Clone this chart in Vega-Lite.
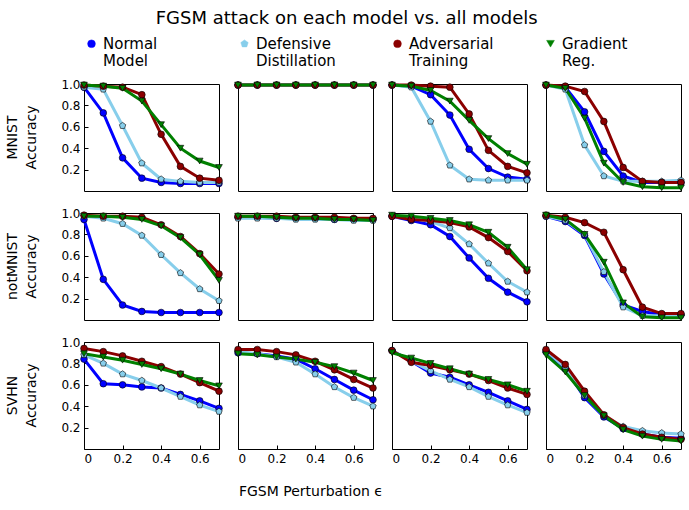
{
  "$schema": "https://vega.github.io/schema/vega-lite/v6.json",
  "padding": {"left": 5, "top": 10, "right": 5, "bottom": 5},
  "bounds": "flush",
  "title": {"text": "FGSM attack on each model vs. all models", "fontSize": 18, "fontWeight": "normal", "font": "DejaVu Sans", "anchor": "middle", "color": "black", "offset": 8},
  "data": {"values": [
    {"d":"MNIST","a":"N","x":0.0,"N":0.97,"D":0.97,"A":0.99,"G":0.99},
    {"d":"MNIST","a":"N","x":0.1,"N":0.73,"D":0.95,"A":0.98,"G":0.98},
    {"d":"MNIST","a":"N","x":0.2,"N":0.31,"D":0.61,"A":0.97,"G":0.96},
    {"d":"MNIST","a":"N","x":0.3,"N":0.12,"D":0.26,"A":0.90,"G":0.84},
    {"d":"MNIST","a":"N","x":0.4,"N":0.08,"D":0.11,"A":0.53,"G":0.62},
    {"d":"MNIST","a":"N","x":0.5,"N":0.07,"D":0.09,"A":0.23,"G":0.40},
    {"d":"MNIST","a":"N","x":0.6,"N":0.07,"D":0.08,"A":0.12,"G":0.28},
    {"d":"MNIST","a":"N","x":0.7,"N":0.07,"D":0.08,"A":0.10,"G":0.22},
    {"d":"MNIST","a":"D","x":0.0,"N":0.99,"D":0.99,"A":0.99,"G":0.99},
    {"d":"MNIST","a":"D","x":0.1,"N":0.99,"D":0.99,"A":0.99,"G":0.99},
    {"d":"MNIST","a":"D","x":0.2,"N":0.99,"D":0.99,"A":0.99,"G":0.99},
    {"d":"MNIST","a":"D","x":0.3,"N":0.99,"D":0.99,"A":0.99,"G":0.99},
    {"d":"MNIST","a":"D","x":0.4,"N":0.99,"D":0.99,"A":0.99,"G":0.99},
    {"d":"MNIST","a":"D","x":0.5,"N":0.99,"D":0.99,"A":0.99,"G":0.99},
    {"d":"MNIST","a":"D","x":0.6,"N":0.99,"D":0.99,"A":0.99,"G":0.99},
    {"d":"MNIST","a":"D","x":0.7,"N":0.99,"D":0.99,"A":0.99,"G":0.99},
    {"d":"MNIST","a":"A","x":0.0,"N":0.99,"D":0.99,"A":0.99,"G":0.99},
    {"d":"MNIST","a":"A","x":0.1,"N":0.98,"D":0.97,"A":0.99,"G":0.98},
    {"d":"MNIST","a":"A","x":0.2,"N":0.90,"D":0.65,"A":0.98,"G":0.94},
    {"d":"MNIST","a":"A","x":0.3,"N":0.71,"D":0.24,"A":0.97,"G":0.84},
    {"d":"MNIST","a":"A","x":0.4,"N":0.39,"D":0.11,"A":0.72,"G":0.66},
    {"d":"MNIST","a":"A","x":0.5,"N":0.21,"D":0.10,"A":0.38,"G":0.49},
    {"d":"MNIST","a":"A","x":0.6,"N":0.13,"D":0.10,"A":0.23,"G":0.35},
    {"d":"MNIST","a":"A","x":0.7,"N":0.11,"D":0.10,"A":0.17,"G":0.25},
    {"d":"MNIST","a":"G","x":0.0,"N":0.99,"D":0.99,"A":0.99,"G":0.99},
    {"d":"MNIST","a":"G","x":0.1,"N":0.97,"D":0.95,"A":0.98,"G":0.96},
    {"d":"MNIST","a":"G","x":0.2,"N":0.74,"D":0.43,"A":0.93,"G":0.68},
    {"d":"MNIST","a":"G","x":0.3,"N":0.37,"D":0.14,"A":0.65,"G":0.26},
    {"d":"MNIST","a":"G","x":0.4,"N":0.14,"D":0.09,"A":0.22,"G":0.08},
    {"d":"MNIST","a":"G","x":0.5,"N":0.08,"D":0.09,"A":0.09,"G":0.04},
    {"d":"MNIST","a":"G","x":0.6,"N":0.08,"D":0.09,"A":0.08,"G":0.03},
    {"d":"MNIST","a":"G","x":0.7,"N":0.08,"D":0.10,"A":0.08,"G":0.03},
    {"d":"notMNIST","a":"N","x":0.0,"N":0.94,"D":0.97,"A":0.98,"G":0.97},
    {"d":"notMNIST","a":"N","x":0.1,"N":0.38,"D":0.95,"A":0.97,"G":0.97},
    {"d":"notMNIST","a":"N","x":0.2,"N":0.14,"D":0.90,"A":0.97,"G":0.96},
    {"d":"notMNIST","a":"N","x":0.3,"N":0.08,"D":0.79,"A":0.96,"G":0.94},
    {"d":"notMNIST","a":"N","x":0.4,"N":0.07,"D":0.61,"A":0.89,"G":0.88},
    {"d":"notMNIST","a":"N","x":0.5,"N":0.07,"D":0.44,"A":0.78,"G":0.77},
    {"d":"notMNIST","a":"N","x":0.6,"N":0.07,"D":0.29,"A":0.62,"G":0.61},
    {"d":"notMNIST","a":"N","x":0.7,"N":0.07,"D":0.18,"A":0.43,"G":0.37},
    {"d":"notMNIST","a":"D","x":0.0,"N":0.96,"D":0.95,"A":0.97,"G":0.97},
    {"d":"notMNIST","a":"D","x":0.1,"N":0.96,"D":0.95,"A":0.97,"G":0.97},
    {"d":"notMNIST","a":"D","x":0.2,"N":0.95,"D":0.95,"A":0.97,"G":0.96},
    {"d":"notMNIST","a":"D","x":0.3,"N":0.95,"D":0.94,"A":0.96,"G":0.95},
    {"d":"notMNIST","a":"D","x":0.4,"N":0.95,"D":0.94,"A":0.96,"G":0.95},
    {"d":"notMNIST","a":"D","x":0.5,"N":0.94,"D":0.94,"A":0.96,"G":0.94},
    {"d":"notMNIST","a":"D","x":0.6,"N":0.94,"D":0.93,"A":0.95,"G":0.94},
    {"d":"notMNIST","a":"D","x":0.7,"N":0.94,"D":0.93,"A":0.95,"G":0.93},
    {"d":"notMNIST","a":"A","x":0.0,"N":0.97,"D":0.97,"A":0.97,"G":0.98},
    {"d":"notMNIST","a":"A","x":0.1,"N":0.93,"D":0.95,"A":0.94,"G":0.97},
    {"d":"notMNIST","a":"A","x":0.2,"N":0.89,"D":0.92,"A":0.93,"G":0.95},
    {"d":"notMNIST","a":"A","x":0.3,"N":0.78,"D":0.86,"A":0.91,"G":0.93},
    {"d":"notMNIST","a":"A","x":0.4,"N":0.58,"D":0.71,"A":0.87,"G":0.89},
    {"d":"notMNIST","a":"A","x":0.5,"N":0.39,"D":0.53,"A":0.77,"G":0.82},
    {"d":"notMNIST","a":"A","x":0.6,"N":0.26,"D":0.36,"A":0.64,"G":0.68},
    {"d":"notMNIST","a":"A","x":0.7,"N":0.17,"D":0.26,"A":0.46,"G":0.47},
    {"d":"notMNIST","a":"G","x":0.0,"N":0.97,"D":0.97,"A":0.98,"G":0.98},
    {"d":"notMNIST","a":"G","x":0.1,"N":0.92,"D":0.93,"A":0.96,"G":0.94},
    {"d":"notMNIST","a":"G","x":0.2,"N":0.79,"D":0.80,"A":0.91,"G":0.80},
    {"d":"notMNIST","a":"G","x":0.3,"N":0.43,"D":0.45,"A":0.82,"G":0.54},
    {"d":"notMNIST","a":"G","x":0.4,"N":0.14,"D":0.12,"A":0.47,"G":0.16},
    {"d":"notMNIST","a":"G","x":0.5,"N":0.08,"D":0.04,"A":0.12,"G":0.03},
    {"d":"notMNIST","a":"G","x":0.6,"N":0.05,"D":0.04,"A":0.06,"G":0.02},
    {"d":"notMNIST","a":"G","x":0.7,"N":0.05,"D":0.04,"A":0.06,"G":0.02},
    {"d":"SVHN","a":"N","x":0.0,"N":0.84,"D":0.88,"A":0.94,"G":0.89},
    {"d":"SVHN","a":"N","x":0.1,"N":0.61,"D":0.80,"A":0.91,"G":0.86},
    {"d":"SVHN","a":"N","x":0.2,"N":0.60,"D":0.70,"A":0.87,"G":0.83},
    {"d":"SVHN","a":"N","x":0.3,"N":0.58,"D":0.64,"A":0.82,"G":0.79},
    {"d":"SVHN","a":"N","x":0.4,"N":0.57,"D":0.57,"A":0.77,"G":0.75},
    {"d":"SVHN","a":"N","x":0.5,"N":0.51,"D":0.49,"A":0.70,"G":0.70},
    {"d":"SVHN","a":"N","x":0.6,"N":0.45,"D":0.41,"A":0.62,"G":0.64},
    {"d":"SVHN","a":"N","x":0.7,"N":0.38,"D":0.35,"A":0.54,"G":0.59},
    {"d":"SVHN","a":"D","x":0.0,"N":0.90,"D":0.91,"A":0.93,"G":0.89},
    {"d":"SVHN","a":"D","x":0.1,"N":0.89,"D":0.89,"A":0.93,"G":0.88},
    {"d":"SVHN","a":"D","x":0.2,"N":0.87,"D":0.86,"A":0.91,"G":0.86},
    {"d":"SVHN","a":"D","x":0.3,"N":0.84,"D":0.81,"A":0.88,"G":0.84},
    {"d":"SVHN","a":"D","x":0.4,"N":0.75,"D":0.70,"A":0.82,"G":0.81},
    {"d":"SVHN","a":"D","x":0.5,"N":0.65,"D":0.58,"A":0.74,"G":0.77},
    {"d":"SVHN","a":"D","x":0.6,"N":0.55,"D":0.48,"A":0.65,"G":0.71},
    {"d":"SVHN","a":"D","x":0.7,"N":0.46,"D":0.40,"A":0.57,"G":0.64},
    {"d":"SVHN","a":"A","x":0.0,"N":0.92,"D":0.92,"A":0.92,"G":0.90},
    {"d":"SVHN","a":"A","x":0.1,"N":0.82,"D":0.82,"A":0.81,"G":0.85},
    {"d":"SVHN","a":"A","x":0.2,"N":0.71,"D":0.73,"A":0.78,"G":0.80},
    {"d":"SVHN","a":"A","x":0.3,"N":0.67,"D":0.65,"A":0.74,"G":0.75},
    {"d":"SVHN","a":"A","x":0.4,"N":0.60,"D":0.58,"A":0.70,"G":0.70},
    {"d":"SVHN","a":"A","x":0.5,"N":0.53,"D":0.49,"A":0.64,"G":0.65},
    {"d":"SVHN","a":"A","x":0.6,"N":0.45,"D":0.41,"A":0.57,"G":0.60},
    {"d":"SVHN","a":"A","x":0.7,"N":0.37,"D":0.34,"A":0.51,"G":0.54},
    {"d":"SVHN","a":"G","x":0.0,"N":0.91,"D":0.92,"A":0.93,"G":0.88},
    {"d":"SVHN","a":"G","x":0.1,"N":0.75,"D":0.76,"A":0.79,"G":0.72},
    {"d":"SVHN","a":"G","x":0.2,"N":0.48,"D":0.50,"A":0.54,"G":0.50},
    {"d":"SVHN","a":"G","x":0.3,"N":0.30,"D":0.31,"A":0.32,"G":0.31},
    {"d":"SVHN","a":"G","x":0.4,"N":0.19,"D":0.21,"A":0.20,"G":0.18},
    {"d":"SVHN","a":"G","x":0.5,"N":0.14,"D":0.17,"A":0.14,"G":0.12},
    {"d":"SVHN","a":"G","x":0.6,"N":0.11,"D":0.15,"A":0.11,"G":0.09},
    {"d":"SVHN","a":"G","x":0.7,"N":0.10,"D":0.14,"A":0.09,"G":0.075}
  ]},
  "transform": [{"fold": ["N", "D", "A", "G"], "as": ["series", "acc"]}],
  "facet": {
    "row": {"field": "d", "type": "nominal", "sort": ["MNIST", "notMNIST", "SVHN"],
      "header": {"title": null, "labelOrient": "left", "labelAngle": -90, "labelExpr": "[datum.value, 'Accuracy']", "labelFontSize": 14, "labelFont": "DejaVu Sans", "labelColor": "black", "labelPadding": 8, "labelAlign": "center", "labelBaseline": "bottom", "labelLineHeight": 19}},
    "column": {"field": "a", "type": "nominal", "sort": ["N", "D", "A", "G"],
      "header": {"labels": false, "title": "FGSM Perturbation ϵ", "titleOrient": "bottom", "titleAnchor": "middle", "titleAlign": "right", "titleFontSize": 14, "titleFontWeight": "normal", "titleFont": "DejaVu Sans", "titleColor": "black", "titlePadding": 11}}
  },
  "spacing": {"row": 22, "column": 19},
  "spec": {
    "width": 135,
    "height": 107,
    "encoding": {
      "x": {"field": "x", "type": "quantitative", "scale": {"domain": [0, 0.7], "nice": false},
        "axis": {"title": null, "values": [0, 0.2, 0.4, 0.6], "labelExpr": "datum.value == 0 ? '0' : format(datum.value, '.1f')"}},
      "y": {"field": "acc", "type": "quantitative", "scale": {"domain": [0, 1], "nice": false},
        "axis": {"title": null, "values": [0.2, 0.4, 0.6, 0.8, 1.0], "format": ".1f"}},
      "color": {"field": "series", "type": "nominal",
        "scale": {"domain": ["N", "D", "A", "G"], "range": ["#0000ff", "#87ceeb", "#8b0000", "#008000"]},
        "legend": {"title": null, "orient": "top", "direction": "horizontal", "columns": 4, "gridAlign": "all", "labelExpr": "datum.label == 'N' ? ['Normal', 'Model'] : datum.label == 'D' ? ['Defensive', 'Distillation'] : datum.label == 'A' ? ['Adversarial', 'Training'] : ['Gradient', 'Reg.']", "labelFontSize": 15, "labelFont": "DejaVu Sans", "labelColor": "black", "labelLineHeight": 20, "columnPadding": 49, "symbolSize": 60, "symbolStrokeColor": "black", "symbolStrokeWidth": 0.5, "labelLimit": 200, "offset": 9}}
    },
    "layer": [
      {"mark": {"type": "line", "strokeWidth": 3}, "encoding": {}},
      {"mark": {"type": "point", "filled": true, "opacity": 1, "stroke": "black", "strokeWidth": 0.6, "size": 45},
        "encoding": {
          "shape": {"field": "series", "type": "nominal",
            "scale": {"domain": ["N", "D", "A", "G"], "range": ["circle", "M0,-1L0.951,-0.309L0.588,0.809L-0.588,0.809L-0.951,-0.309Z", "circle", "triangle-down"]}}
        }}
    ]
  },
  "config": {
    "font": "DejaVu Sans",
    "view": {"stroke": "black", "strokeWidth": 1},
    "axis": {"domain": false, "grid": false, "ticks": true, "tickSize": -4, "tickColor": "black", "labelColor": "black", "labelFontSize": 12, "labelFont": "DejaVu Sans", "labelPadding": 8}
  }
}
